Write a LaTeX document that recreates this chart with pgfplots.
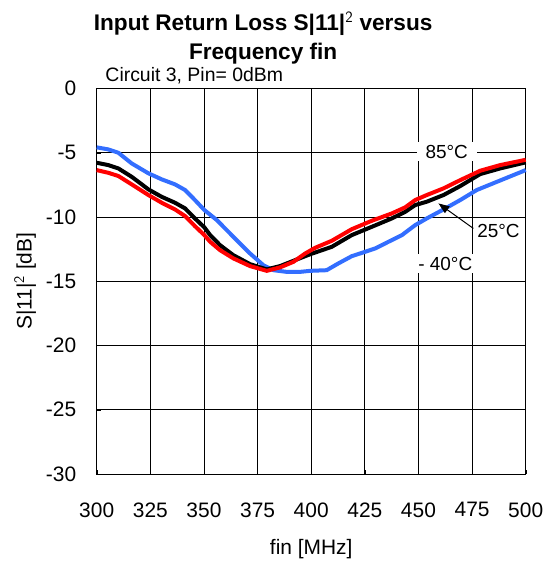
\documentclass[border=0pt]{standalone}
\usepackage{pgfplots}
\pgfplotsset{compat=1.18}
\usetikzlibrary{arrows.meta}
\usepackage{fontspec}
\setmainfont{Liberation Sans}
\definecolor{cblue}{RGB}{51,110,255}
\begin{document}
\begin{tikzpicture}
\path[use as bounding box] (-96.7bp,-91bp) rectangle (447.3bp,474bp);
\begin{axis}[
  scale only axis, width=429bp, height=385.5bp,
  at={(0,0)}, anchor=south west,
  xmin=300, xmax=500, ymin=-30, ymax=0,
  xtick={300,325,...,500}, ytick={-30,-25,...,0},
  grid=major, grid style={black, line width=0.7bp},
  axis line style={black, line width=0.8bp},
  tick style={black}, major tick length=4bp,
  tick align=inside, xtick pos=bottom, ytick pos=left,
  /pgf/number format/assume math mode=true,
  /pgf/number format/.cd, 1000 sep={}, /pgfplots/.cd,
  ticklabel style={font=\fontsize{21}{24}\selectfont},
  xticklabel style={yshift=-25bp},
  yticklabel style={xshift=-17bp},
  xlabel={fin [MHz]}, ylabel={S|11|$^{\mathsf{2}}$ [dB]},
  label style={font=\fontsize{21}{24}\selectfont},
  xlabel style={yshift=-15bp},
  ylabel style={yshift=3bp},
  clip=false,
]
\addplot[cblue, line width=4bp] coordinates {
(300,-4.58) (305.4,-4.74) (310.1,-5.0) (316.3,-5.83) (324.1,-6.6) (330.3,-7.07) (336.5,-7.46) (341.2,-7.9) (345.8,-8.68) (350.2,-9.46) (356,-10.24) (363.7,-11.54) (371.5,-12.84) (377.7,-13.75) (382.4,-14.14) (388.6,-14.27) (394.8,-14.27) (399.5,-14.19) (407.2,-14.14) (412.7,-13.61) (418.9,-13.05) (425.1,-12.71) (429.8,-12.45) (436,-11.93) (442.3,-11.41) (448.5,-10.63) (453.9,-10.11) (461.7,-9.41) (469.5,-8.68) (477.2,-7.9) (486.6,-7.26) (500,-6.35)};
\addplot[black, line width=4bp] coordinates {
(300,-5.78) (305.4,-5.96) (310.1,-6.22) (316.3,-6.87) (324.1,-7.85) (330.3,-8.43) (336.5,-8.89) (341.2,-9.33) (345.8,-10.11) (350.2,-10.81) (352.9,-11.41) (357.5,-12.19) (363.7,-12.97) (371.5,-13.67) (379.3,-14.08) (385.5,-13.82) (391.7,-13.41) (399.5,-12.9) (409.6,-12.32) (418.9,-11.41) (428.3,-10.76) (437.6,-10.11) (443.8,-9.6) (448.5,-9.07) (453.9,-8.81) (461.7,-8.29) (469.5,-7.59) (478.8,-6.66) (488.1,-6.22) (500,-5.75)};
\addplot[red, line width=4bp] coordinates {
(300,-6.35) (305.4,-6.56) (310.1,-6.81) (316.3,-7.46) (324.1,-8.29) (330.3,-8.89) (336.5,-9.41) (341.2,-9.93) (345.8,-10.71) (350.2,-11.41) (352.9,-11.93) (357.5,-12.58) (363.7,-13.22) (371.5,-13.82) (379.3,-14.19) (385.5,-13.92) (391.7,-13.49) (397.1,-12.85) (401.8,-12.4) (409.6,-11.85) (418.9,-10.95) (428.3,-10.29) (437.6,-9.72) (443.8,-9.25) (448.5,-8.68) (453.9,-8.29) (461.7,-7.77) (469.5,-7.13) (478.8,-6.4) (488.1,-5.96) (500,-5.55)};
\draw[-{Triangle[length=11bp,width=8bp]}, line width=1bp] (axis cs:475.6,-10.89) -- (axis cs:459.3,-8.94);
\node[fill=white, inner xsep=9bp, inner ysep=3bp, font=\fontsize{19}{22}\selectfont] at (axis cs:463.2,-4.92) {85°C};
\node[fill=white, inner sep=3bp, font=\fontsize{19}{22}\selectfont] at (axis cs:487.3,-11.05) {25°C};
\node[fill=white, inner sep=3bp, font=\fontsize{19}{22}\selectfont] at (axis cs:462.5,-13.62) {- 40°C};
\node[anchor=base, font=\bfseries\fontsize{22.7}{26}\selectfont] at (axis cs:377.6,4.53) {Input Return Loss S|11|$^{\mathsf{2}}$ versus};
\node[anchor=base, font=\bfseries\fontsize{22.7}{26}\selectfont] at (axis cs:377.6,2.26) {Frequency fin};
\node[anchor=base west, inner sep=0pt, font=\fontsize{19.5}{22}\selectfont] at (axis cs:304,0.58) {Circuit 3, Pin= 0dBm};
\end{axis}
\end{tikzpicture}
\end{document}
